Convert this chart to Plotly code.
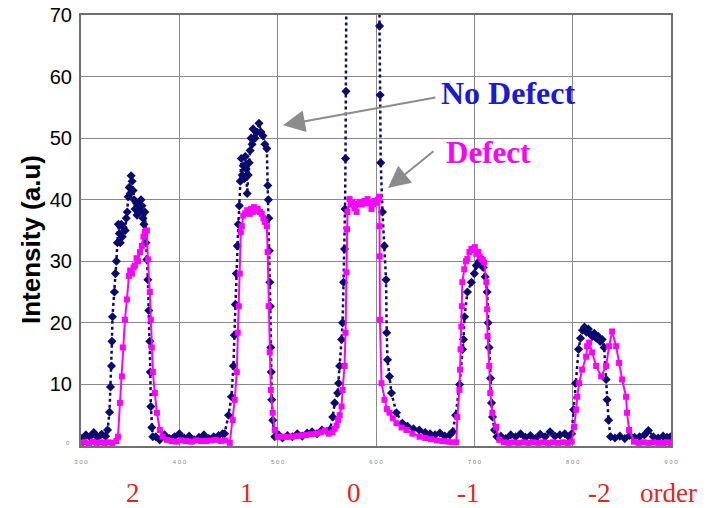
import plotly.graph_objects as go

# ---------------- data ----------------
no_defect = [
    (301, 1.2), (305, 1.8), (309, 1.5), (313, 2.2), (317, 1.4), (321, 1.9), (325, 1.6),
    (327, 2.6), (329, 5.5), (330, 9.6), (331, 13), (331.5, 17), (332, 21), (334, 25),
    (335, 28), (336, 30), (337, 33), (338, 36), (339, 34.5), (340, 33), (341, 36),
    (342, 34), (343, 35.5), (345, 35), (346, 37), (347, 38), (348, 40.5), (349, 42),
    (350, 41), (351, 43.9), (352, 43), (353, 41.5), (354, 40), (355, 38.5), (356, 39.5),
    (357, 37.5), (358, 38), (359, 39), (360, 38), (361, 40), (362, 39), (363, 37),
    (364, 36), (365, 38), (366, 33), (367, 30.3), (368, 27), (369, 22), (370, 17),
    (370.5, 12), (371, 6.4), (372, 3), (373, 1.5),
    (376, 1.5), (380, 1.0), (385, 1.8), (390, 1.2), (395, 1.5), (400, 2.0), (405, 1.3),
    (410, 1.6), (415, 1.0), (420, 1.4), (425, 1.8), (430, 1.2), (435, 1.5), (440, 1.7),
    (444, 2.0),
    (446, 2), (450, 5), (453, 8), (455, 13), (456, 18), (457, 23), (458, 28), (459, 32.5),
    (460, 36), (461, 39), (462, 43), (463, 46.7), (464, 44), (465, 45.5), (466, 43.4),
    (467, 47), (468, 45), (469, 41), (470, 44), (471, 46), (472, 48), (473, 50), (474, 49),
    (475, 51.5), (477, 50), (479, 51), (481, 52.4), (483, 51), (485, 50.4), (487, 49),
    (489, 48.3), (490, 42.3), (490.5, 40), (491, 37), (491.5, 31.7), (492, 26.6),
    (492.5, 22.7), (493, 16), (493.5, 12), (494, 7.5), (495, 4.2), (497, 1.5),
    (501, 1.8), (505, 1.3), (510, 1.7), (515, 1.5), (520, 2.0), (525, 1.6), (530, 2.1),
    (535, 2.3), (540, 2.0), (545, 2.6), (550, 2.4), (553, 2.6), (556, 4.7), (558, 7),
    (561, 8.6), (562, 10.2), (563, 13), (565, 17.3), (566, 20), (567, 26.6), (568, 32),
    (568.5, 38.5), (569, 46.7), (569.5, 57.6), (570.5, 95), (587, 130), (603.2, 100),
    (603.6, 68.2), (604.2, 57), (604.8, 46), (606.6, 38), (608.5, 32.5), (610.2, 27),
    (610.9, 18.4), (611.7, 14), (613.7, 11.3), (615.7, 8.6), (620.8, 5.4), (626.9, 3.7),
    (632, 3.2), (638, 2.8), (644, 2.6), (650, 2.2), (655, 2.0), (660, 1.8), (665, 2.1),
    (670, 1.6), (675, 1.8), (678, 2.3), (681, 5), (685, 10), (688, 15.7), (689, 17.3),
    (690, 21), (693, 25), (697, 26.6), (700, 28), (702, 29.3), (705, 30), (707, 29.8),
    (709, 29), (711, 27.5), (713, 25), (714, 20), (715, 16), (716.5, 11), (717.5, 7),
    (718.5, 4.7), (720.5, 2.6), (723, 1.5),
    (727, 1.6), (732, 1.2), (737, 1.8), (742, 1.5), (747, 2.0), (752, 1.4), (757, 1.7),
    (762, 1.2), (767, 1.9), (772, 1.5), (777, 2.3), (782, 1.6), (787, 1.8), (792, 2.0),
    (796, 1.5), (799, 2.0), (801, 5.9), (803, 10.2), (806, 15.7), (808, 17.5), (810, 18.8),
    (812, 19.3), (814, 18.5), (816, 19), (818, 18.2), (820, 17.8), (822, 18.3), (824, 17.5),
    (826, 17.8), (828, 17), (830, 17.3), (832, 16), (834, 10.8), (835, 7.5), (836.5, 4.2),
    (838.5, 1.5), (843, 1.3), (848, 1.6), (853, 1.2), (858, 1.7), (863, 1.4), (868, 1.5),
    (873, 1.8), (877, 2.5), (882, 1.5), (887, 1.3), (892, 1.6), (896, 1.4), (899.5, 1.5),
]

defect = [
    (300, 0.5), (304, 0.6), (308, 0.4), (312, 0.7), (316, 0.5), (320, 0.6), (324, 0.5),
    (328, 0.6), (332, 0.5), (336, 0.8), (337.6, 1.5), (339.6, 7), (341.6, 11.3), (342.6, 16),
    (344.7, 20.5), (346.7, 23.8), (348.7, 27.6), (350, 28.5), (351.8, 28), (353.5, 29),
    (354.8, 29.3), (356.5, 30.5), (357.9, 30), (360, 31.5), (361.9, 32.5), (363.5, 34),
    (365, 34.8), (367, 35), (368, 30.3), (370, 25), (371, 20.5), (372, 16), (373.1, 12),
    (375.1, 8.6), (377.2, 5.4), (380.2, 2.6), (383, 1.5), (387.3, 1.0),
    (392, 0.8), (397, 0.7), (402, 0.9), (407, 0.8), (412, 0.7), (417, 0.9), (422, 0.8),
    (427, 0.8), (432, 0.9), (437, 1.0), (442, 0.8), (447, 0.9),
    (451.3, 0.5), (454.3, 4.2), (456.3, 7.5), (458.4, 12), (459.4, 18.4), (460.5, 22.7),
    (461.5, 28), (462.5, 34.7), (463.5, 35.7), (465, 37.4), (467, 37.8), (469, 38.3),
    (471.6, 37.7), (473, 38.5), (474.6, 38), (476, 38.8), (478, 38.2), (479.7, 38.5),
    (482, 38), (483.8, 37.7), (485.5, 37), (486.8, 36.4), (489, 35.7), (489.8, 31.5),
    (490.8, 22.7), (491.9, 15.2), (493, 9.1), (494.9, 5.4), (497, 2.6), (500, 1.5),
    (505, 1.5), (509, 1.5), (514, 1.5), (519, 1.6), (524, 1.7), (529, 1.8), (534, 1.9),
    (539, 2.0), (544, 2.2), (548, 2.5), (552, 2.0), (555.8, 2.2), (558, 2.8), (559.9, 3.3),
    (561.5, 4.2), (563, 5), (565, 6.4), (566, 9.1), (568, 13), (569, 18.4), (570, 28.2),
    (570.5, 35.2), (571, 38), (573.1, 40.1), (574.5, 39.2), (576.1, 39.6), (578, 38.6),
    (580.2, 38), (581.5, 39.3), (583.2, 39.6), (585.5, 39.2), (588.3, 39.8), (590, 39.4),
    (591.4, 40.1), (593.5, 39.5), (595.4, 38.5), (597, 39.3), (598.5, 39.8), (600.5, 39.5),
    (602, 40.0), (603.3, 40.5), (603.6, 35.7), (603.8, 30.8), (604, 20.5), (605.6, 10.2),
    (608.6, 7.5), (611, 6), (613.7, 5.4), (617, 4.5), (620.8, 3.7), (626, 3.0), (631, 2.6),
    (637, 2.0), (644.2, 1.5), (650, 1.3), (656, 1.1), (662, 0.9), (668, 0.8), (673, 0.7),
    (677, 0.6), (681.7, 0.6), (682.7, 4.7), (684.8, 9.1), (685.5, 12.4), (686, 15.7),
    (686.8, 19.4), (687.3, 22.7), (687.8, 26.6), (689.8, 28.7), (691.5, 30), (692.9, 30.4),
    (695, 31.5), (697, 32), (699, 31.8), (700.5, 32.3), (702, 31.2), (704, 31.5),
    (705.5, 30.8), (707.1, 30.4), (708.5, 30.2), (710.2, 29.8), (712.2, 26.6), (713, 22.2),
    (713.5, 17.8), (715.2, 13), (716.2, 8.6), (718.3, 5.4), (722.3, 3.1), (725.4, 1.0),
    (730, 0.6), (735, 0.5), (740, 0.6), (745, 0.5), (750, 0.6), (755, 0.5), (760, 0.6),
    (765, 0.5), (770, 0.6), (775, 0.5), (780, 0.6), (785, 0.5), (790, 0.6), (795, 0.5),
    (799, 0.7), (801.5, 3.1), (803.6, 5.9), (804.6, 8), (806.6, 10.2), (809.6, 12.4),
    (813.7, 14.5), (814.7, 16.2), (816.8, 16.8), (819.8, 15.2), (823.9, 13), (829, 11.3),
    (834, 13), (837, 16.2), (840.1, 18.6), (844.2, 16.2), (847.2, 13.5), (850.3, 10.8),
    (854.3, 8), (855.3, 5.4), (857.4, 2.6), (862.4, 0.7), (867, 0.5), (872, 0.6),
    (877, 0.5), (882, 0.6), (887, 0.5), (892, 0.5), (897, 0.6), (900, 0.5),
]

nd_x = [p[0] for p in no_defect]
nd_y = [p[1] for p in no_defect]
d_x = [p[0] for p in defect]
d_y = [p[1] for p in defect]

x_ticks = [300, 400, 500, 600, 700, 800, 900]
x_tick_text = ["3 0 0", "4 0 0", "5 0 0", "6 0 0", "7 0 0", "8 0 0", "9 0 0"]
y_ticks = [10, 20, 30, 40, 50, 60, 70]
order_labels = ["2", "1", "0", "-1", "-2", "order"]
order_pos = [352.9, 468.8, 577.6, 693.6, 827.5, 897]

# ---------------- figure ----------------
fig = go.Figure()
fig.add_trace(go.Scatter(
    x=nd_x, y=nd_y, mode="lines+markers", name="No Defect",
    line=dict(color="#0b0b6e", width=2.5, dash="3px,3px"),
    marker=dict(symbol="diamond", size=7, color="#0b0b6e"),
))
fig.add_trace(go.Scatter(
    x=d_x, y=d_y, mode="lines+markers", name="Defect",
    line=dict(color="#ff00ff", width=2),
    marker=dict(symbol="square", size=6, color="#ff00ff"),
))

grid = "#8a8a8a"
fig.update_xaxes(
    range=[300, 900], tickvals=x_ticks, ticktext=x_tick_text,
    tickfont=dict(family="Liberation Sans, Arial", size=6, color="#888888"),
    ticklabelstandoff=9,
    showgrid=True, gridcolor=grid, gridwidth=1,
    showline=True, linecolor="#707070", linewidth=2, mirror=True,
    ticks="", zeroline=False, automargin=False,
)
fig.update_yaxes(
    range=[0, 70], tickvals=y_ticks,
    tickfont=dict(family="Liberation Sans, Arial", size=20, color="black"),
    ticklabelstandoff=3,
    showgrid=True, gridcolor=grid, gridwidth=1,
    showline=True, linecolor="#707070", linewidth=2, mirror=True,
    ticks="", zeroline=False, automargin=False,
)

annotations = []
# y-axis title
annotations.append(dict(
    text="<b>Intensity (a.u)</b>", xref="paper", yref="paper", x=-0.0847, y=0.478,
    textangle=-90, showarrow=False, xanchor="center", yanchor="middle",
    font=dict(family="Liberation Sans, Arial", size=26, color="black"),
))
# tiny zero label
annotations.append(dict(
    text="0", xref="paper", yref="y", x=-0.022, y=0.5, showarrow=False,
    xanchor="center", yanchor="middle",
    font=dict(family="Liberation Sans, Arial", size=6, color="#888888"),
))
# order labels
for lab, pos in zip(order_labels, order_pos):
    annotations.append(dict(
        text=lab, xref="x", yref="paper", x=pos, y=-0.108, showarrow=False,
        xanchor="center", yanchor="middle",
        font=dict(family="Liberation Serif, Times New Roman", size=27, color="#e22525"),
    ))
# series labels
annotations.append(dict(
    text="<b>No Defect</b>", xref="paper", yref="paper", x=0.7237, y=0.820,
    showarrow=False, xanchor="center", yanchor="middle",
    font=dict(family="Liberation Serif, Times New Roman", size=32, color="#1a1ad2"),
))
annotations.append(dict(
    text="<b>Defect</b>", xref="paper", yref="paper", x=0.690, y=0.681,
    showarrow=False, xanchor="center", yanchor="middle",
    font=dict(family="Liberation Serif, Times New Roman", size=31, color="#ff00ff"),
))
# arrows
annotations.append(dict(
    text="", xref="x", yref="y", x=505.4, y=52.1, ax=154, ay=-28,
    showarrow=True, arrowhead=2, arrowsize=2.2, arrowwidth=2, arrowcolor="#8c8c8c",
))
annotations.append(dict(
    text="", xref="x", yref="y", x=612.2, y=41.9, ax=47, ay=-38,
    showarrow=True, arrowhead=2, arrowsize=2.2, arrowwidth=2, arrowcolor="#8c8c8c",
))

fig.update_layout(
    width=707, height=508,
    margin=dict(l=81, r=36, t=15, b=62),
    paper_bgcolor="white", plot_bgcolor="white",
    showlegend=False,
    annotations=annotations,
)

fig.write_html("out.html")
